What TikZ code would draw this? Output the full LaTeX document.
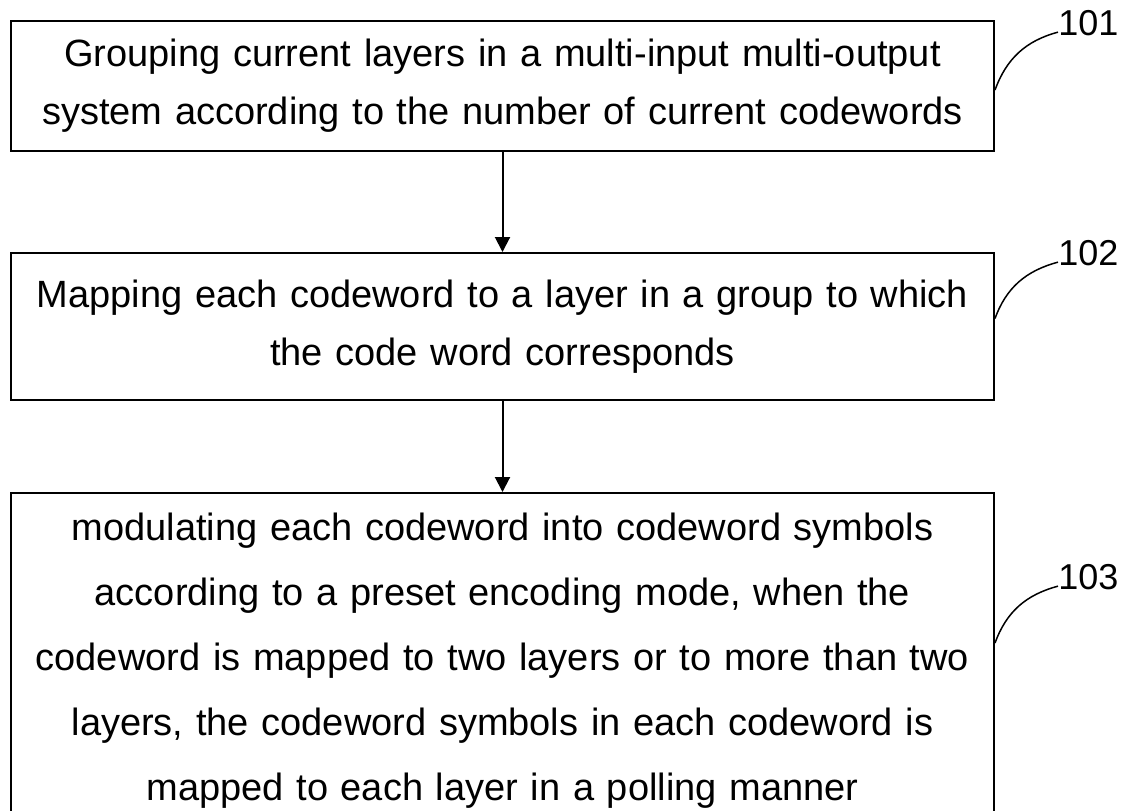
\documentclass[tikz,border=0pt]{standalone}
\usepackage{fontspec}
\setmainfont{Liberation Sans}
\usetikzlibrary{arrows.meta,positioning}

\begin{document}
\begin{tikzpicture}[
    x=0.5pt, y=-0.5pt,
    node distance=50pt,
    block/.style={rectangle, draw, line width=1pt, text width=485pt, align=center, minimum width=491.5pt, inner sep=0pt, font=\fontsize{19}{29}\selectfont},
    arrow/.style={line width=1pt,-{Triangle[length=7.5pt,width=7.5pt]}},
    leader/.style={line width=0.75pt},
    tag/.style={font=\fontsize{18}{18}\selectfont, anchor=west, inner sep=0pt}
]
\useasboundingbox (0,0) rectangle (1129,810);

% Steps
\node[block, minimum height=65pt, anchor=north west] (group) at (10,20) {Grouping current layers in a multi-input multi-output\\system according to the number of current codewords};
\node[block, minimum height=73.5pt, below=of group] (map) {Mapping each codeword to a layer in a group to which\\the code word corresponds};
\node[block, minimum height=168pt, below=45.5pt of map, font=\fontsize{19}{32.5}\selectfont] (modulate) {modulating each codeword into codeword symbols\\according to a preset encoding mode, when the\\codeword is mapped to two layers or to more than two\\layers, the codeword symbols in each codeword is\\mapped to each layer in a polling manner};

% Arrows (main flow)
\draw[arrow] (group) -- (map);
\draw[arrow] (map) -- (modulate);

% Reference numerals
\node[tag] (t101) at (1058,23) {101};
\node[tag] (t102) at (1058,253) {102};
\node[tag] (t103) at (1058,577) {103};

\draw[leader] ([yshift=-2pt]group.east) to[out=70,in=195] ([yshift=2pt]t101.south west);
\draw[leader] ([yshift=4pt]map.east) to[out=70,in=195] ([yshift=2pt]t102.south west);
\draw[leader] ([yshift=9pt]modulate.east) to[out=70,in=195] ([yshift=2pt]t103.south west);

\end{tikzpicture}
\end{document}
